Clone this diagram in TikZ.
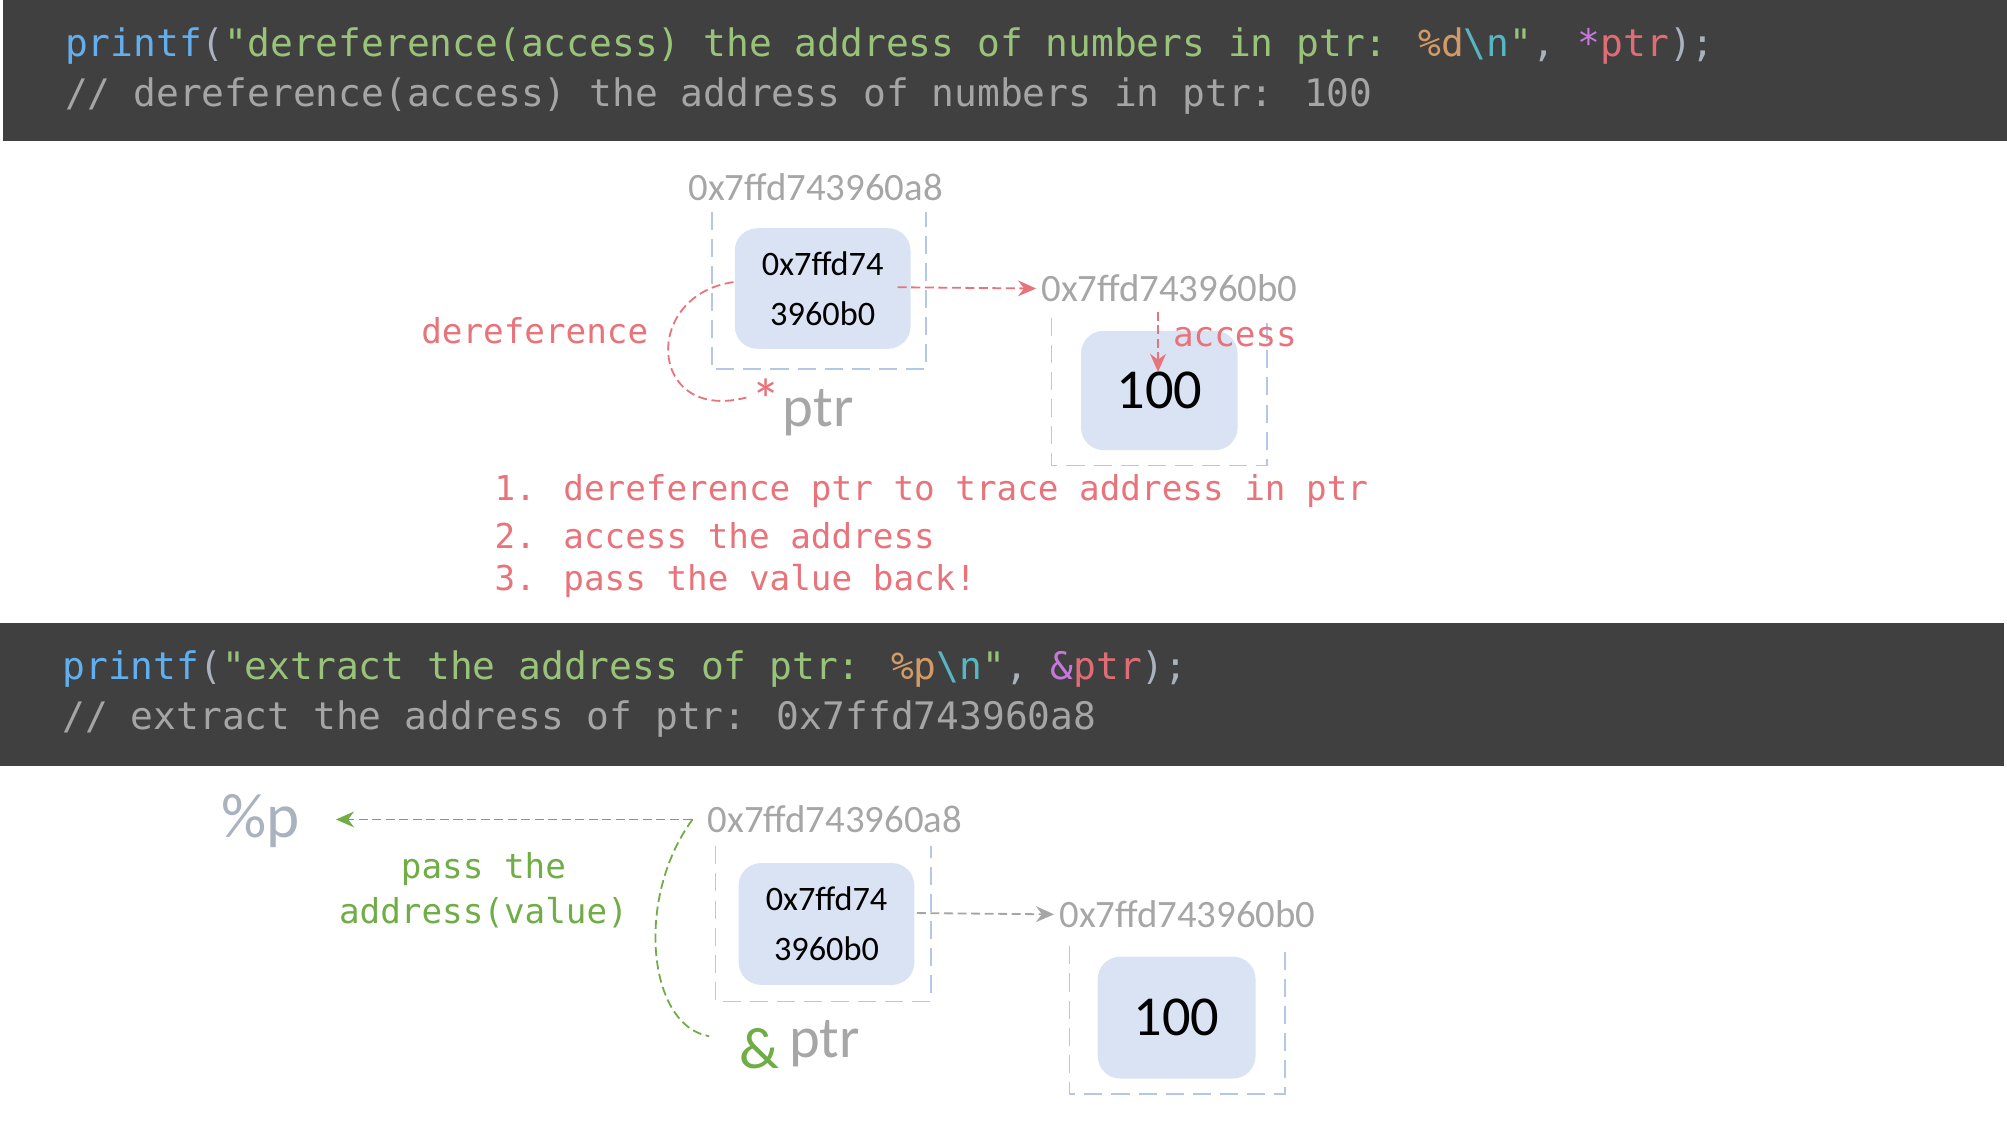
\documentclass[tikz,border=0pt]{standalone}
\usepackage{fontspec}
\setmainfont{Carlito}
\newfontfamily\codefont{DejaVu Sans Mono}
\usepackage{xcolor}
\definecolor{band}{HTML}{404040}
\definecolor{cblue}{HTML}{61AFEF}
\definecolor{cgreen}{HTML}{98C379}
\definecolor{corange}{HTML}{D19A66}
\definecolor{ccyan}{HTML}{56B6C2}
\definecolor{cmag}{HTML}{C678DD}
\definecolor{cred}{HTML}{E06C75}
\definecolor{cgray}{HTML}{ABB2BF}
\definecolor{ccomment}{HTML}{A5A5A5}
\definecolor{memred}{HTML}{E8737B}
\definecolor{memgreen}{HTML}{70AD47}
\definecolor{addrgray}{HTML}{A6A6A6}
\definecolor{cellfill}{HTML}{DAE3F3}
\definecolor{celledge}{HTML}{B4C7E7}
\usetikzlibrary{arrows.meta, positioning}
\tikzstyle{every picture}+=[>={Stealth[length=4pt,width=3.5pt]}]

\begin{document}
\begin{tikzpicture}[x=0.01cm, y=-0.01cm,
		code/.style={anchor=west, inner sep=0, font=\codefont\fontsize{8.4}{10}\selectfont},
		note/.style={anchor=west, inner sep=0, text=memred, font=\codefont\fontsize{7.6}{10}\selectfont},
		addr/.style={text=addrgray, inner sep=1pt, font=\fontsize{8.6}{10}\selectfont},
		cell/.style={fill=cellfill, rounded corners=5pt, draw=none},
		frame/.style={celledge, dash pattern=on 4pt off 2pt, thin},
		link/.style={->, dash pattern=on 2pt off 1pt, thin}
		]
	\useasboundingbox (0,0) rectangle (1565,880);

	% first code band
	\fill[band] (2,0) rectangle (1565,110);
	\node[code] (line1) at (50,36) {\textcolor{cblue}{printf}\textcolor{cgray}{(}\textcolor{cgreen}{"dereference(access) the address of numbers in ptr: }\textcolor{corange}{\%d}\textcolor{ccyan}{\textbackslash n}\textcolor{cgreen}{"}\textcolor{cgray}{, }\textcolor{cmag}{*}\textcolor{cred}{ptr}\textcolor{cgray}{);}};
	\node[code, text=ccomment] (line2) at (50,75) {// dereference(access) the address of numbers in ptr: 100};

	% pointer cell
	\node[addr] (pa) at (636,146) {0x7ffd743960a8};
	\draw[frame] (555,165) -- (555,288) -- (722,288) -- (722,165);
	\node[cell, minimum width=1.37cm, minimum height=0.94cm, align=center, font=\fontsize{7.6}{11}\selectfont] (pcell) at (641.5,225) {0x7ffd74\\3960b0};
	\node[text=memred, font=\fontsize{13}{14}\selectfont, inner sep=0] (star) at (597,312) {*};
	\node[text=addrgray, font=\fontsize{13}{14}\selectfont, inner sep=0] (pname) at (638,322) {ptr};

	% value cell
	\node[addr] (va) at (912,225) {0x7ffd743960b0};
	\draw[frame] (820,248) -- (820,363) -- (988,363) -- (988,248);
	\node[cell, minimum width=1.22cm, minimum height=0.93cm, font=\fontsize{12.5}{14}\selectfont] (vcell) at (904,304.5) {100};

	\coordinate (pout) at (700,224);
	\draw[link, memred] (pout) -- (va.west);
	\coordinate (atop) at (903,243);
	\coordinate (abot) at (903,290);
	\draw[link, memred] (atop) -- (abot);
	\node[note] (acc) at (914,263) {access};
	\node[note, anchor=center] (deref) at (417,258) {dereference};
	\coordinate (cs) at (572,220);
	\coordinate (ce) at (582,310);
	\draw[memred, dash pattern=on 2pt off 1pt, thin] (cs) .. controls (500,230) and (505,330) .. (ce);

	\node[note] (step1) at (385,383) {1. dereference ptr to trace address in ptr};
	\node[note] (step2) at (385,418) {2. access the address};
	\node[note] (step3) at (385,453) {3. pass the value back!};

	% second code band
	\fill[band] (0,486) rectangle (1563,597);
	\node[code] (line3) at (48,522) {\textcolor{cblue}{printf}\textcolor{cgray}{(}\textcolor{cgreen}{"extract the address of ptr: }\textcolor{corange}{\%p}\textcolor{ccyan}{\textbackslash n}\textcolor{cgreen}{"}\textcolor{cgray}{, }\textcolor{cmag}{\&}\textcolor{cred}{ptr}\textcolor{cgray}{);}};
	\node[code, text=ccomment] (line4) at (48,561) {// extract the address of ptr: 0x7ffd743960a8};

	% second diagram
	\node[text=cgray, font=\fontsize{14}{16}\selectfont, inner sep=0] (fmt) at (203,640) {\%p};
	\node[addr] (qa) at (651,639) {0x7ffd743960a8};
	\draw[frame] (558,660) -- (558,781) -- (726,781) -- (726,660);
	\node[cell, minimum width=1.37cm, minimum height=0.95cm, align=center, font=\fontsize{7.6}{11}\selectfont] (qcell) at (644.5,720.5) {0x7ffd74\\3960b0};
	\node[text=memgreen, font=\fontsize{13}{14}\selectfont, inner sep=0] (amp) at (592,818) {\&};
	\node[text=addrgray, font=\fontsize{13}{14}\selectfont, inner sep=0] (qname) at (643,814) {ptr};

	\node[addr] (wa) at (926,713) {0x7ffd743960b0};
	\draw[frame] (834,738) -- (834,853) -- (1002,853) -- (1002,738);
	\node[cell, minimum width=1.23cm, minimum height=0.95cm, font=\fontsize{12.5}{14}\selectfont] (wcell) at (917.5,793.5) {100};

	\coordinate (qout) at (715,712);
	\draw[link, addrgray] (qout) -- (wa.west);
	\coordinate (gs) at (540,639);
	\coordinate (ge) at (262,639);
	\draw[link, memgreen] (gs) -- (ge);
	\coordinate (gb) at (553,808);
	\draw[memgreen, dash pattern=on 2pt off 1pt, thin] (gs) .. controls (495,700) and (505,800) .. (gb);
	\node[note, text=memgreen, anchor=center, align=center] (passv) at (377,694) {pass the\\address(value)};
\end{tikzpicture}
\end{document}
